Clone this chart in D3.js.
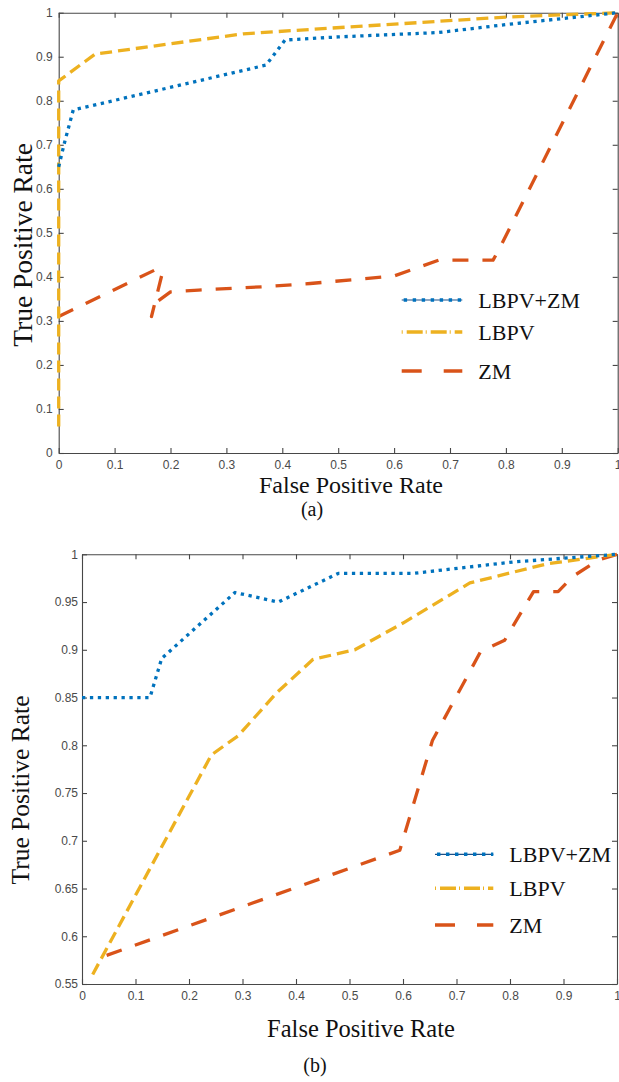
<!DOCTYPE html>
<html>
<head>
<meta charset="utf-8">
<script src="https://cdn.jsdelivr.net/npm/d3@7"></script>
<style>
  body { margin: 0; background: #fff; }
  svg { display: block; }
  .serif { font-family: "Liberation Serif", "DejaVu Serif", serif; fill: #111; }
  .tick text { font-family: "Liberation Sans", Arial, sans-serif; font-size: 12px; fill: #4a4a4a; }
</style>
</head>
<body>
<svg id="fig" width="619" height="1082"></svg>
<script>
// ---- shared ticks ----
const fprTicks = [0, 0.1, 0.2, 0.3, 0.4, 0.5, 0.6, 0.7, 0.8, 0.9, 1];
const fprTickLabels = ["0", "0.1", "0.2", "0.3", "0.4", "0.5", "0.6", "0.7", "0.8", "0.9", "1"];

const seriesNames = ["LBPV+ZM", "LBPV", "ZM"];
const seriesColors = ["#0072BD", "#EDB120", "#D95319"];

// ---- panel (a) ----
const tprTicksA = [0, 0.1, 0.2, 0.3, 0.4, 0.5, 0.6, 0.7, 0.8, 0.9, 1];
const tprTickLabelsA = ["0", "0.1", "0.2", "0.3", "0.4", "0.5", "0.6", "0.7", "0.8", "0.9", "1"];

const fprA_fused = [0, 0.01, 0.026, 0.371, 0.405, 0.5, 0.68, 0.8, 1];
const tprA_fused = [0.65, 0.703, 0.779, 0.881, 0.938, 0.945, 0.955, 0.973, 1];

const fprA_lbpv = [0, 0, 0.065, 0.33, 0.45, 0.8, 1];
const tprA_lbpv = [0.06, 0.845, 0.906, 0.952, 0.962, 0.99, 1];

const fprA_zm = [0, 0.176, 0.186, 0.166, 0.172, 0.2, 0.25, 0.37, 0.45, 0.6, 0.68, 0.777, 0.79, 1];
const tprA_zm = [0.31, 0.418, 0.412, 0.31, 0.34, 0.366, 0.37, 0.378, 0.385, 0.402, 0.438, 0.438, 0.468, 1];

// ---- panel (b) ----
const tprTicksB = [0.55, 0.6, 0.65, 0.7, 0.75, 0.8, 0.85, 0.9, 0.95, 1];
const tprTickLabelsB = ["0.55", "0.6", "0.65", "0.7", "0.75", "0.8", "0.85", "0.9", "0.95", "1"];

const fprB_fused = [0, 0.127, 0.149, 0.286, 0.367, 0.479, 0.619, 0.806, 1];
const tprB_fused = [0.85, 0.85, 0.891, 0.96, 0.95, 0.98, 0.98, 0.992, 1];

const fprB_lbpv = [0.02, 0.242, 0.292, 0.364, 0.432, 0.51, 0.6, 0.725, 0.869, 1];
const tprB_lbpv = [0.56, 0.79, 0.81, 0.855, 0.89, 0.9, 0.928, 0.97, 0.99, 1];

const fprB_zm = [0.046, 0.594, 0.655, 0.745, 0.79, 0.844, 0.89, 0.918, 0.965, 1];
const tprB_zm = [0.58, 0.69, 0.805, 0.898, 0.91, 0.961, 0.961, 0.977, 0.994, 1];

// ---- styling ----
const lineWidth = 3.3;
const dashes = ["3.3 4.6", "12 6", "16 14"];
const axisColor = "#474747";

const svg = d3.select("#fig");

function zip(xs, ys) { return xs.map((v, i) => [v, ys[i]]); }

function drawPanel(p) {
  const x = d3.scaleLinear().domain([0, 1]).range([p.left, p.right]);
  const y = d3.scaleLinear().domain(p.yDomain).range([p.bottom, p.top]);
  const g = svg.append("g");

  const styleAxis = sel => {
    sel.attr("font-family", null).attr("font-size", null);
    sel.selectAll("path.domain").attr("stroke", axisColor).attr("stroke-width", 1.1);
    sel.selectAll(".tick line").attr("stroke", axisColor).attr("stroke-width", 1.1);
    sel.selectAll(".tick text").attr("fill", null);
  };

  g.append("g").attr("transform", `translate(0,${p.bottom})`)
    .call(d3.axisBottom(x).tickValues(fprTicks)
      .tickFormat((d, i) => fprTickLabels[i]).tickSizeInner(-5).tickSizeOuter(0).tickPadding(p.xPad))
    .call(styleAxis);
  g.append("g").attr("transform", `translate(0,${p.top})`)
    .call(d3.axisTop(x).tickValues(fprTicks).tickFormat("").tickSizeInner(-5).tickSizeOuter(0))
    .call(styleAxis);
  g.append("g").attr("transform", `translate(${p.left},0)`)
    .call(d3.axisLeft(y).tickValues(p.yTicks)
      .tickFormat((d, i) => p.yLabels[i]).tickSizeInner(-5).tickSizeOuter(0).tickPadding(p.yPad))
    .call(styleAxis);
  g.append("g").attr("transform", `translate(${p.right},0)`)
    .call(d3.axisRight(y).tickValues(p.yTicks).tickFormat("").tickSizeInner(-5).tickSizeOuter(0))
    .call(styleAxis);

  const line = d3.line().x(d => x(d[0])).y(d => y(d[1]));
  // ZM underneath, LBPV+ZM on top
  [2, 1, 0].forEach(k => {
    g.append("path")
      .attr("d", line(zip(p.series[k][0], p.series[k][1])))
      .attr("fill", "none")
      .attr("stroke", seriesColors[k])
      .attr("stroke-width", lineWidth)
      .attr("stroke-dasharray", dashes[k])
      .attr("stroke-linejoin", "round");
  });

  // axis titles and caption
  g.append("text").attr("class", "serif")
    .attr("x", p.xTitle[0]).attr("y", p.xTitle[1])
    .attr("text-anchor", "middle")
    .style("font-size", p.xTitleSize + "px")
    .text("False Positive Rate");
  g.append("text").attr("class", "serif")
    .attr("transform", `translate(${p.yTitle[0]},${p.yTitle[1]}) rotate(-90)`)
    .attr("text-anchor", "middle")
    .style("font-size", p.yTitleSize + "px")
    .text("True Positive Rate");
  g.append("text").attr("class", "serif")
    .attr("x", p.caption[0]).attr("y", p.caption[1])
    .attr("text-anchor", "middle")
    .style("font-size", "20px")
    .text(p.captionText);

  // legend
  const L = p.legend;
  seriesNames.forEach((name, k) => {
    const yy = L.rows[k];
    if (k === 0) {
      g.append("line").attr("x1", L.x0).attr("x2", L.x1).attr("y1", yy).attr("y2", yy)
        .attr("stroke", "#1d4f86").attr("stroke-width", 1.2);
      g.append("line").attr("x1", L.x0 + 2).attr("x2", L.x1).attr("y1", yy).attr("y2", yy)
        .attr("stroke", seriesColors[0]).attr("stroke-width", 3.4)
        .attr("stroke-dasharray", "3.4 5.6");
    } else if (k === 1) {
      g.append("line").attr("x1", L.x0).attr("x2", L.x1).attr("y1", yy).attr("y2", yy)
        .attr("stroke", seriesColors[1]).attr("stroke-width", 3.4)
        .attr("stroke-dasharray", "1 4 16 3");
    } else {
      g.append("line").attr("x1", L.x0).attr("x2", L.x1).attr("y1", yy).attr("y2", yy)
        .attr("stroke", seriesColors[2]).attr("stroke-width", 3.6)
        .attr("stroke-dasharray", "20 22");
    }
    g.append("text").attr("class", "serif")
      .attr("x", L.tx).attr("y", yy + 7.5)
      .style("font-size", "22px")
      .text(name);
  });
}

drawPanel({
  left: 58.7, right: 617.7, top: 12.7, bottom: 453,
  yDomain: [0, 1], yTicks: tprTicksA, yLabels: tprTickLabelsA,
  xPad: 7, yPad: 6,
  series: [[fprA_fused, tprA_fused], [fprA_lbpv, tprA_lbpv], [fprA_zm, tprA_zm]],
  xTitle: [351, 493], xTitleSize: 24,
  yTitle: [32, 245], yTitleSize: 27.5,
  caption: [312, 516], captionText: "(a)",
  legend: { x0: 401.7, x1: 462.3, tx: 478.3, rows: [300, 332, 371] }
});

drawPanel({
  left: 82, right: 617, top: 554.3, bottom: 984,
  yDomain: [0.55, 1], yTicks: tprTicksB, yLabels: tprTickLabelsB,
  xPad: 7, yPad: 4,
  series: [[fprB_fused, tprB_fused], [fprB_lbpv, tprB_lbpv], [fprB_zm, tprB_zm]],
  xTitle: [361, 1036.5], xTitleSize: 24.5,
  yTitle: [28.5, 790], yTitleSize: 25.5,
  caption: [315, 1072], captionText: "(b)",
  legend: { x0: 435, x1: 493.3, tx: 509.3, rows: [854.3, 888.3, 925] }
});
</script>
</body>
</html>
